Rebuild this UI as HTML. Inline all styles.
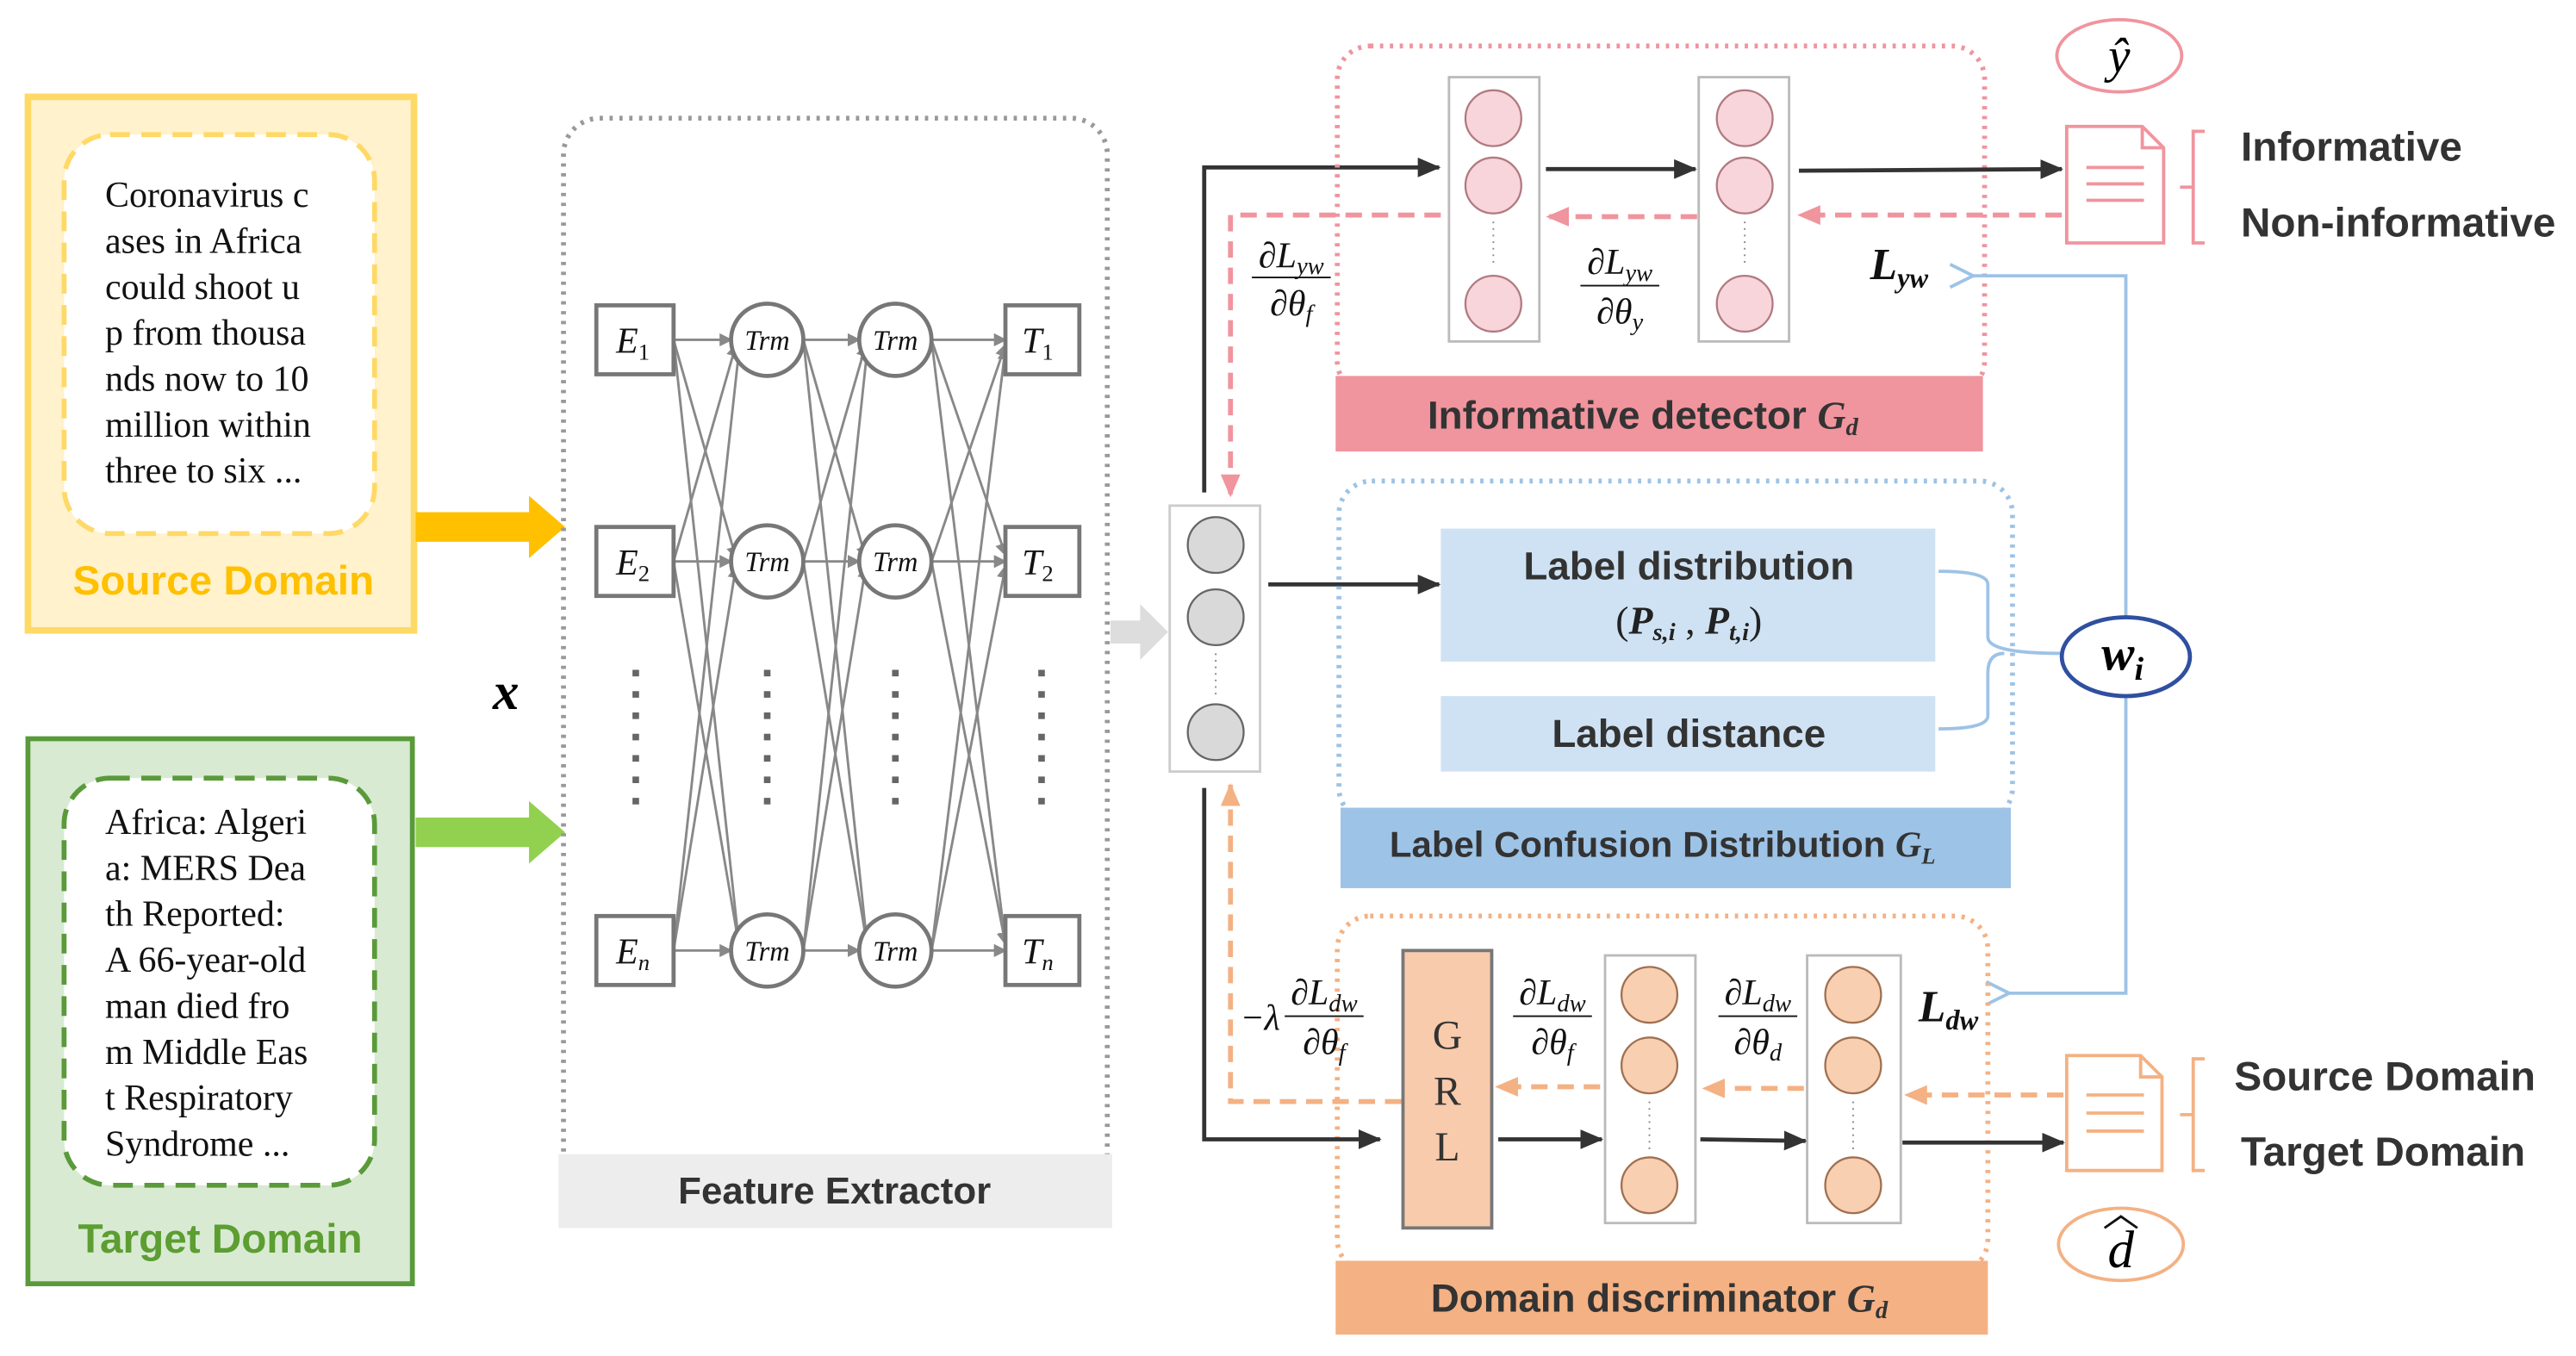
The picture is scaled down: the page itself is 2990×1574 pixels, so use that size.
<!DOCTYPE html>
<html><head><meta charset="utf-8"><style>
html,body{margin:0;padding:0;background:#fff;}
svg{display:block;}
.s{font-family:"Liberation Serif",serif;}
.b{font-family:"Liberation Sans",sans-serif;font-weight:bold;}
</style></head><body>
<svg width="2990" height="1574" viewBox="0 0 1568 826" preserveAspectRatio="none" xmlns="http://www.w3.org/2000/svg">
<defs>
<marker id="ag" markerWidth="8" markerHeight="8" refX="7" refY="4" orient="auto" markerUnits="userSpaceOnUse"><path d="M0,0 L8,4 L0,8 z" fill="#888"/></marker>
<marker id="ak" markerWidth="14" markerHeight="12" refX="13" refY="6" orient="auto" markerUnits="userSpaceOnUse"><path d="M0,0 L14,6 L0,12 z" fill="#333"/></marker>
<marker id="ap" markerWidth="14" markerHeight="12" refX="13" refY="6" orient="auto" markerUnits="userSpaceOnUse"><path d="M0,0 L14,6 L0,12 z" fill="#f0949e"/></marker>
<marker id="ao" markerWidth="14" markerHeight="12" refX="13" refY="6" orient="auto" markerUnits="userSpaceOnUse"><path d="M0,0 L14,6 L0,12 z" fill="#f4b183"/></marker>
<marker id="ab" markerWidth="16" markerHeight="16" refX="1" refY="8" orient="auto" markerUnits="userSpaceOnUse"><path d="M15,1 L1,8 L15,15" fill="none" stroke="#9dc3e6" stroke-width="2"/></marker>
</defs>

<!-- Source domain -->
<rect x="17" y="59" width="235" height="325" fill="#fff2cc" stroke="#ffd966" stroke-width="4"/>
<rect x="39" y="82" width="189" height="243" rx="28" fill="#fff" stroke="#ffd966" stroke-width="3" stroke-dasharray="12,7"/>
<g class="s" font-size="22" fill="#111">
<text x="64" y="126">Coronavirus c</text><text x="64" y="154">ases in Africa</text><text x="64" y="182">could shoot u</text><text x="64" y="210">p from thousa</text><text x="64" y="238">nds now to 10</text><text x="64" y="266">million within</text><text x="64" y="294">three to six ...</text>
</g>
<text x="136" y="362" class="b" font-size="25" fill="#ffc000" text-anchor="middle">Source Domain</text>
<!-- Target -->
<rect x="17" y="450" width="234" height="332" fill="#d9ead3" stroke="#5a9a3a" stroke-width="3"/>
<rect x="39" y="474" width="189" height="248" rx="28" fill="#fff" stroke="#5a9a3a" stroke-width="3" stroke-dasharray="12,7"/>
<g class="s" font-size="22" fill="#111">
<text x="64" y="508">Africa: Algeri</text><text x="64" y="536">a: MERS Dea</text><text x="64" y="564">th Reported:</text><text x="64" y="592">A 66-year-old</text><text x="64" y="620">man died fro</text><text x="64" y="648">m Middle Eas</text><text x="64" y="676">t Respiratory</text><text x="64" y="704">Syndrome ...</text>
</g>
<text x="134" y="763" class="b" font-size="25" fill="#5c9e31" text-anchor="middle">Target Domain</text>
<!-- big arrows -->
<path d="M253,312 L322,312 L322,302 L344,321 L322,340 L322,330 L253,330 z" fill="#ffc000"/>
<path d="M253,498 L322,498 L322,488 L344,507 L322,526 L322,516 L253,516 z" fill="#92d050"/>
<text x="300" y="432" class="s" font-size="32" font-style="italic" font-weight="bold">x</text>

<!-- Feature extractor -->
<rect x="343" y="72" width="331" height="660" rx="22" fill="none" stroke="#999" stroke-width="3" stroke-dasharray="2,4"/>
<rect x="340" y="703" width="337" height="45" fill="#ededed"/>
<text x="508" y="733" class="b" font-size="23" fill="#333" text-anchor="middle">Feature Extractor</text>
<g stroke="#888" stroke-width="1.5" marker-end="url(#ag)">
<line x1="410" y1="207" x2="445" y2="207"/><line x1="410" y1="207" x2="448" y2="340"/><line x1="410" y1="207" x2="450" y2="577"/>
<line x1="410" y1="342" x2="448" y2="210"/><line x1="410" y1="342" x2="445" y2="342"/><line x1="410" y1="342" x2="450" y2="577"/>
<line x1="410" y1="579" x2="450" y2="212"/><line x1="410" y1="579" x2="448" y2="345"/><line x1="410" y1="579" x2="445" y2="579"/>
<line x1="489" y1="207" x2="523" y2="207"/><line x1="489" y1="207" x2="527" y2="340"/><line x1="489" y1="207" x2="528" y2="577"/>
<line x1="489" y1="342" x2="527" y2="210"/><line x1="489" y1="342" x2="523" y2="342"/><line x1="489" y1="342" x2="528" y2="577"/>
<line x1="489" y1="579" x2="528" y2="212"/><line x1="489" y1="579" x2="527" y2="345"/><line x1="489" y1="579" x2="523" y2="579"/>
<line x1="567" y1="207" x2="612" y2="207"/><line x1="567" y1="207" x2="612" y2="338"/><line x1="567" y1="207" x2="612" y2="575"/>
<line x1="567" y1="342" x2="612" y2="210"/><line x1="567" y1="342" x2="612" y2="342"/><line x1="567" y1="342" x2="612" y2="575"/>
<line x1="567" y1="579" x2="612" y2="212"/><line x1="567" y1="579" x2="612" y2="345"/><line x1="567" y1="579" x2="612" y2="579"/>
</g>
<g fill="#fff" stroke="#777" stroke-width="2.5">
<rect x="363" y="186" width="47" height="42"/><rect x="363" y="321" width="47" height="42"/><rect x="363" y="558" width="47" height="42"/>
<rect x="612" y="186" width="45" height="42"/><rect x="612" y="321" width="45" height="42"/><rect x="612" y="558" width="45" height="42"/>
<circle cx="467" cy="207" r="22"/><circle cx="545" cy="207" r="22"/>
<circle cx="467" cy="342" r="22"/><circle cx="545" cy="342" r="22"/>
<circle cx="467" cy="579" r="22"/><circle cx="545" cy="579" r="22"/>
</g>
<g class="s" font-style="italic" fill="#111">
<text x="375" y="215" font-size="22">E<tspan font-size="14" font-style="normal" dy="4">1</tspan></text>
<text x="375" y="350" font-size="22">E<tspan font-size="14" font-style="normal" dy="4">2</tspan></text>
<text x="375" y="587" font-size="22">E<tspan font-size="14" dy="4">n</tspan></text>
<text x="622" y="215" font-size="22">T<tspan font-size="14" font-style="normal" dy="4">1</tspan></text>
<text x="622" y="350" font-size="22">T<tspan font-size="14" font-style="normal" dy="4">2</tspan></text>
<text x="622" y="587" font-size="22">T<tspan font-size="14" dy="4">n</tspan></text>
<g font-size="17" text-anchor="middle">
<text x="467" y="213">Trm</text><text x="545" y="213">Trm</text><text x="467" y="348">Trm</text><text x="545" y="348">Trm</text><text x="467" y="585">Trm</text><text x="545" y="585">Trm</text>
</g></g>
<g stroke="#666" stroke-width="4" stroke-dasharray="4,9">
<line x1="387" y1="408" x2="387" y2="492"/><line x1="467" y1="408" x2="467" y2="492"/><line x1="545" y1="408" x2="545" y2="492"/><line x1="634" y1="408" x2="634" y2="492"/>
</g>
<path d="M676,378 L694,378 L694,368 L711,385 L694,402 L694,392 L676,392 z" fill="#ddd"/>

<!-- gray column -->
<rect x="712" y="308" width="55" height="162" fill="#fff" stroke="#ccc" stroke-width="1.5"/>
<g fill="#d9d9d9" stroke="#666" stroke-width="1.2"><circle cx="740" cy="332" r="17"/><circle cx="740" cy="376" r="17"/><circle cx="740" cy="446" r="17"/></g>
<line x1="740" y1="398" x2="740" y2="424" stroke="#888" stroke-dasharray="1,3"/>

<!-- top path -->
<polyline points="733,300 733,102 876,102" fill="none" stroke="#333" stroke-width="2.5" marker-end="url(#ak)"/>
<polyline points="877,131 749,131 749,302" fill="none" stroke="#f0949e" stroke-width="3" stroke-dasharray="10,6" marker-end="url(#ap)"/>
<!-- informative detector -->
<rect x="814" y="28" width="394" height="212" rx="20" fill="none" stroke="#f0949e" stroke-width="3" stroke-dasharray="2,4"/>
<rect x="813" y="229" width="394" height="46" fill="#f0949e"/>
<text x="1000" y="261" class="b" font-size="24" fill="#333" text-anchor="middle">Informative detector  <tspan class="s" font-style="italic">G<tspan font-size="15" dy="4">d</tspan></tspan></text>
<g fill="#fff" stroke="#bbb" stroke-width="1.5"><rect x="882" y="47" width="55" height="161"/><rect x="1034" y="47" width="55" height="161"/></g>
<g fill="#f8d5da" stroke="#b07a80" stroke-width="1.2">
<circle cx="909" cy="72" r="17"/><circle cx="909" cy="113" r="17"/><circle cx="909" cy="185" r="17"/>
<circle cx="1062" cy="72" r="17"/><circle cx="1062" cy="113" r="17"/><circle cx="1062" cy="185" r="17"/></g>
<g stroke="#888" stroke-dasharray="1,3"><line x1="909" y1="135" x2="909" y2="163"/><line x1="1062" y1="135" x2="1062" y2="163"/></g>
<line x1="941" y1="103" x2="1032" y2="103" stroke="#333" stroke-width="2.5" marker-end="url(#ak)"/>
<line x1="1095" y1="104" x2="1255" y2="103" stroke="#333" stroke-width="2.5" marker-end="url(#ak)"/>
<line x1="1033" y1="132" x2="942" y2="132" stroke="#f0949e" stroke-width="3" stroke-dasharray="10,6" marker-end="url(#ap)"/>
<line x1="1255" y1="131" x2="1095" y2="131" stroke="#f0949e" stroke-width="3" stroke-dasharray="10,6" marker-end="url(#ap)"/>
<g class="s" font-style="italic" fill="#111" font-size="22" text-anchor="middle">
<text x="786" y="163">∂L<tspan font-size="15" dy="4">yw</tspan></text><line x1="762" y1="169" x2="810" y2="169" stroke="#111"/><text x="786" y="192">∂θ<tspan font-size="15" dy="4">f</tspan></text>
<text x="986" y="167">∂L<tspan font-size="15" dy="4">yw</tspan></text><line x1="962" y1="174" x2="1010" y2="174" stroke="#111"/><text x="986" y="197">∂θ<tspan font-size="15" dy="4">y</tspan></text>
<text x="1156" y="170" font-size="27" font-weight="bold">L<tspan font-size="17" dy="5">yw</tspan></text>
</g>
<ellipse cx="1290" cy="34" rx="38" ry="22" fill="none" stroke="#f0949e" stroke-width="2"/>
<text x="1290" y="44" class="s" font-style="italic" font-size="30" text-anchor="middle">ŷ</text>
<path d="M1258,77 L1304,77 L1317,90 L1317,148 L1258,148 z M1304,77 L1304,90 L1317,90" fill="#fff" stroke="#f0949e" stroke-width="2"/>
<g stroke="#f0949e" stroke-width="2"><line x1="1270" y1="102" x2="1305" y2="102"/><line x1="1270" y1="112" x2="1305" y2="112"/><line x1="1270" y1="122" x2="1305" y2="122"/></g>
<path d="M1342,80 L1335,80 L1335,148 L1342,148 M1327,114 L1335,114" fill="none" stroke="#f0949e" stroke-width="2"/>
<text x="1364" y="98" class="b" font-size="25" fill="#333">Informative</text>
<text x="1364" y="144" class="b" font-size="25" fill="#333">Non-informative</text>

<!-- label confusion -->
<line x1="772" y1="356" x2="876" y2="356" stroke="#333" stroke-width="2.5" marker-end="url(#ak)"/>
<rect x="815" y="293" width="410" height="207" rx="20" fill="none" stroke="#9dc3e6" stroke-width="3" stroke-dasharray="2,4"/>
<rect x="816" y="492" width="408" height="49" fill="#9dc3e6"/>
<text x="1012" y="522" class="b" font-size="22" fill="#333" text-anchor="middle">Label Confusion Distribution  <tspan class="s" font-style="italic">G<tspan font-size="14" dy="4">L</tspan></tspan></text>
<rect x="877" y="322" width="301" height="81" fill="#cfe2f3"/>
<rect x="877" y="424" width="301" height="46" fill="#cfe2f3"/>
<text x="1028" y="353" class="b" font-size="24" fill="#333" text-anchor="middle">Label distribution</text>
<text x="1028" y="386" class="s" font-size="24" fill="#222" text-anchor="middle">(<tspan font-style="italic" font-weight="bold">P<tspan font-size="15" dy="4">s,i</tspan></tspan><tspan dy="-4"> , </tspan><tspan font-style="italic" font-weight="bold">P<tspan font-size="15" dy="4">t,i</tspan></tspan><tspan dy="-4">)</tspan></text>
<text x="1028" y="455" class="b" font-size="24" fill="#333" text-anchor="middle">Label distance</text>
<path d="M1180,348 Q1210,348 1210,356 L1210,388 Q1210,398 1254,398 M1180,444 Q1210,444 1210,436 L1210,410 Q1210,398 1220,398" fill="none" stroke="#9dc3e6" stroke-width="2"/>
<polyline points="1294,376 1294,168 1201,168" fill="none" stroke="#9dc3e6" stroke-width="2" marker-end="url(#ab)"/>
<polyline points="1294,424 1294,605 1223,605" fill="none" stroke="#9dc3e6" stroke-width="2" marker-end="url(#ab)"/>
<ellipse cx="1294" cy="400" rx="39" ry="24" fill="#fff" stroke="#2f4fa0" stroke-width="2.5"/>
<text x="1292" y="408" class="s" font-style="italic" font-weight="bold" font-size="30" text-anchor="middle">w<tspan font-size="20" dy="6">i</tspan></text>

<!-- domain discriminator -->
<rect x="814" y="558" width="396" height="217" rx="20" fill="none" stroke="#f4b183" stroke-width="3" stroke-dasharray="2,4"/>
<rect x="813" y="768" width="397" height="45" fill="#f4b183"/>
<text x="1010" y="799" class="b" font-size="24" fill="#333" text-anchor="middle">Domain discriminator  <tspan class="s" font-style="italic">G<tspan font-size="15" dy="4">d</tspan></tspan></text>
<polyline points="733,480 733,694 840,694" fill="none" stroke="#333" stroke-width="2.5" marker-end="url(#ak)"/>
<polyline points="853,671 749,671 749,478" fill="none" stroke="#f4b183" stroke-width="3" stroke-dasharray="10,6" marker-end="url(#ao)"/>
<rect x="854" y="579" width="54" height="169" fill="#f8cbad" stroke="#777" stroke-width="2"/>
<g class="s" font-size="25" fill="#333" text-anchor="middle"><text x="881" y="639">G</text><text x="881" y="673">R</text><text x="881" y="707">L</text></g>
<g fill="#fff" stroke="#bbb" stroke-width="1.5"><rect x="977" y="582" width="55" height="163"/><rect x="1100" y="582" width="57" height="163"/></g>
<g fill="#f8cfb0" stroke="#a07050" stroke-width="1.2">
<circle cx="1004" cy="606" r="17"/><circle cx="1004" cy="649" r="17"/><circle cx="1004" cy="722" r="17"/>
<circle cx="1128" cy="606" r="17"/><circle cx="1128" cy="649" r="17"/><circle cx="1128" cy="722" r="17"/></g>
<g stroke="#888" stroke-dasharray="1,3"><line x1="1004" y1="671" x2="1004" y2="700"/><line x1="1128" y1="671" x2="1128" y2="700"/></g>
<line x1="912" y1="694" x2="975" y2="694" stroke="#333" stroke-width="2.5" marker-end="url(#ak)"/>
<line x1="1035" y1="694" x2="1099" y2="695" stroke="#333" stroke-width="2.5" marker-end="url(#ak)"/>
<line x1="1158" y1="696" x2="1256" y2="696" stroke="#333" stroke-width="2.5" marker-end="url(#ak)"/>
<line x1="1256" y1="667" x2="1160" y2="667" stroke="#f4b183" stroke-width="3" stroke-dasharray="10,6" marker-end="url(#ao)"/>
<line x1="1098" y1="663" x2="1037" y2="663" stroke="#f4b183" stroke-width="3" stroke-dasharray="10,6" marker-end="url(#ao)"/>
<line x1="974" y1="662" x2="911" y2="662" stroke="#f4b183" stroke-width="3" stroke-dasharray="10,6" marker-end="url(#ao)"/>
<g class="s" font-style="italic" fill="#111" font-size="22" text-anchor="middle">
<text x="767" y="627">−λ</text>
<text x="806" y="612">∂L<tspan font-size="15" dy="4">dw</tspan></text><line x1="782" y1="619" x2="830" y2="619" stroke="#111"/><text x="806" y="642">∂θ<tspan font-size="15" dy="4">f</tspan></text>
<text x="945" y="612">∂L<tspan font-size="15" dy="4">dw</tspan></text><line x1="921" y1="619" x2="969" y2="619" stroke="#111"/><text x="945" y="642">∂θ<tspan font-size="15" dy="4">f</tspan></text>
<text x="1070" y="612">∂L<tspan font-size="15" dy="4">dw</tspan></text><line x1="1046" y1="619" x2="1094" y2="619" stroke="#111"/><text x="1070" y="642">∂θ<tspan font-size="15" dy="4">d</tspan></text>
<text x="1186" y="622" font-size="27" font-weight="bold">L<tspan font-size="17" dy="5">dw</tspan></text>
</g>
<path d="M1258,643 L1303,643 L1316,656 L1316,713 L1258,713 z M1303,643 L1303,656 L1316,656" fill="#fff" stroke="#f4b183" stroke-width="2"/>
<g stroke="#f4b183" stroke-width="2"><line x1="1270" y1="667" x2="1305" y2="667"/><line x1="1270" y1="678" x2="1305" y2="678"/><line x1="1270" y1="689" x2="1305" y2="689"/></g>
<path d="M1342,645 L1335,645 L1335,713 L1342,713 M1327,679 L1335,679" fill="none" stroke="#f4b183" stroke-width="2"/>
<text x="1360" y="664" class="b" font-size="25" fill="#333">Source Domain</text>
<text x="1364" y="710" class="b" font-size="25" fill="#333">Target Domain</text>
<ellipse cx="1291" cy="758" rx="38" ry="22" fill="none" stroke="#f4b183" stroke-width="2"/>
<text x="1291" y="772" class="s" font-style="italic" font-size="32" text-anchor="middle">d</text>
<path d="M1281,748 L1291,741 L1301,748" fill="none" stroke="#111" stroke-width="1.5"/>
</svg>
</body></html>
